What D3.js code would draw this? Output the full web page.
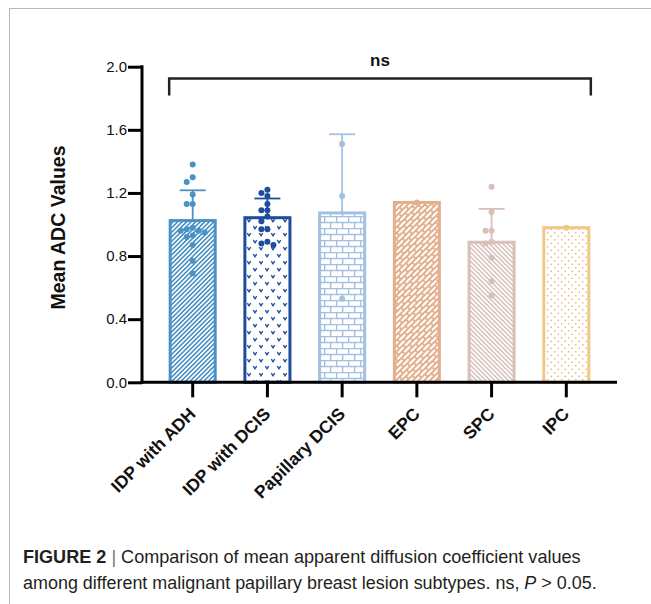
<!DOCTYPE html>
<html>
<head>
<meta charset="utf-8">
<title>Mean ADC Values</title>
<script src="https://cdn.jsdelivr.net/npm/d3@7"></script>
<style>
  body { margin: 0; background: #fff; }
  svg { display: block; font-family: "Liberation Sans", Arial, sans-serif; }
</style>
</head>
<body>
<div id="chart"></div>
<script>
// categories and colours
var categories = ["IDP with ADH", "IDP with DCIS", "Papillary DCIS", "EPC", "SPC", "IPC"];
var barColors = ["#4a92c6", "#1f4d9e", "#a2c0df", "#e3b08d", "#d8c0b8", "#f1c886"];
var patternIds = ["stripe", "vee", "brick", "slantbrick", "backstripe", "dots"];

// individual ADC values
var idpAdh = [1.38, 1.30, 1.27, 1.19, 1.13, 1.13, 0.98, 0.97, 0.96, 0.96, 0.95, 0.93, 0.92, 0.87, 0.77, 0.69];
var idpDcis = [1.22, 1.20, 1.18, 1.13, 1.09, 1.09, 1.05, 1.02, 0.97, 0.97, 0.89, 0.88, 0.87];
var papDcis = [1.51, 1.18, 0.53];
var epc = [1.14];
var spc = [1.24, 1.08, 0.96, 0.96, 0.89, 0.88, 0.79, 0.64, 0.55];
var ipc = [0.98];
var groups = [idpAdh, idpDcis, papDcis, epc, spc, ipc];

var yTicks = [0, 0.4, 0.8, 1.2, 1.6, 2.0];

var W = 651, H = 604;

var svg = d3.select("#chart").append("svg")
    .attr("width", W)
    .attr("height", H);

// frame lines like the journal panel
svg.append("line").attr("x1", 9).attr("x2", W).attr("y1", 8.5).attr("y2", 8.5)
    .attr("stroke", "#b8b8b8").attr("stroke-width", 1);
svg.append("line").attr("x1", 9.5).attr("x2", 9.5).attr("y1", 8).attr("y2", H)
    .attr("stroke", "#b8b8b8").attr("stroke-width", 1);

var x = d3.scaleBand()
    .domain(categories)
    .range([142, 617])
    .paddingInner(0.357)
    .paddingOuter(0.357);

var y = d3.scaleLinear()
    .domain([0, 2])
    .range([382.3, 66.7]);

// patterns
var defs = svg.append("defs");

function pat(id, w, h, transform) {
  var p = defs.append("pattern")
      .attr("id", id)
      .attr("patternUnits", "userSpaceOnUse")
      .attr("width", w)
      .attr("height", h);
  if (transform) p.attr("patternTransform", transform);
  p.append("rect").attr("width", w).attr("height", h).attr("fill", "#fff");
  return p;
}

var p1 = pat("stripe", 3.2, 10, "rotate(45)");
p1.append("line").attr("x1", 0.8).attr("x2", 0.8).attr("y1", 0).attr("y2", 10)
    .attr("stroke", barColors[0]).attr("stroke-width", 1.6);

var p2 = pat("vee", 12, 14);
[[3, 3.5], [9, 10.5]].forEach(function(c) {
  p2.append("path")
      .attr("d", "M" + (c[0] - 1.7) + "," + (c[1] - 1.3) + " L" + c[0] + "," + (c[1] + 1.3) + " L" + (c[0] + 1.7) + "," + (c[1] - 1.3))
      .attr("fill", "none").attr("stroke", barColors[1]).attr("stroke-width", 1.4);
});

var p3 = pat("brick", 12, 12);
p3.append("path")
    .attr("d", "M0,0.6 H12 M0,6.6 H12 M0.6,0.6 V6.6 M6.6,6.6 V12.6")
    .attr("fill", "none").attr("stroke", barColors[2]).attr("stroke-width", 1.5);

var p4 = pat("slantbrick", 10, 8, "rotate(-45)");
p4.append("path")
    .attr("d", "M0,1 H10 M0,5 H10 M1,1 V5 M6,5 V9")
    .attr("fill", "none").attr("stroke", barColors[3]).attr("stroke-width", 1.9);

var p5 = pat("backstripe", 3.2, 10, "rotate(-45)");
p5.append("line").attr("x1", 0.8).attr("x2", 0.8).attr("y1", 0).attr("y2", 10)
    .attr("stroke", "#cdb2a9").attr("stroke-width", 1.2);

var p6 = pat("dots", 7, 7);
[[1.75, 1.75], [5.25, 5.25]].forEach(function(c) {
  p6.append("circle").attr("cx", c[0]).attr("cy", c[1]).attr("r", 0.85).attr("fill", "#eab46a");
});

// stats per group
var stats = groups.map(function(g, i) {
  return {
    cat: categories[i],
    mean: d3.mean(g),
    sd: g.length > 1 ? d3.deviation(g) : null,
    color: barColors[i],
    pattern: patternIds[i],
    values: g
  };
});

// bars
svg.selectAll(".bar")
    .data(stats)
  .enter().append("rect")
    .attr("class", "bar")
    .attr("x", function(d) { return x(d.cat) + 1.5; })
    .attr("width", x.bandwidth() - 3)
    .attr("y", function(d) { return y(d.mean); })
    .attr("height", function(d) { return y(0) - y(d.mean); })
    .attr("fill", function(d) { return "url(#" + d.pattern + ")"; })
    .attr("stroke", function(d) { return d.color; })
    .attr("stroke-width", 3);

// error bars (upper SD only)
var eb = svg.selectAll(".err")
    .data(stats.filter(function(d) { return d.sd; }))
  .enter().append("g")
    .attr("class", "err")
    .attr("stroke", function(d) { return d.color; })
    .attr("stroke-width", 1.8);
eb.append("line")
    .attr("x1", function(d) { return x(d.cat) + x.bandwidth() / 2; })
    .attr("x2", function(d) { return x(d.cat) + x.bandwidth() / 2; })
    .attr("y1", function(d) { return y(d.mean); })
    .attr("y2", function(d) { return y(d.mean + d.sd); });
eb.append("line")
    .attr("x1", function(d) { return x(d.cat) + x.bandwidth() / 2 - 13; })
    .attr("x2", function(d) { return x(d.cat) + x.bandwidth() / 2 + 13; })
    .attr("y1", function(d) { return y(d.mean + d.sd); })
    .attr("y2", function(d) { return y(d.mean + d.sd); });

// simple beeswarm so dots with similar values sit side by side
function swarm(values) {
  var placed = [];
  var order = values.slice().sort(function(a, b) { return b - a; });
  var steps = [0, -1, 1, -2, 2, -3, 3];
  order.forEach(function(v) {
    var py = y(v);
    for (var k = 0; k < steps.length; k++) {
      var dx = steps[k] * 6;
      var ok = placed.every(function(p) {
        return Math.hypot(p.dx - dx, p.py - py) >= 6;
      });
      if (ok) { placed.push({v: v, dx: dx, py: py}); break; }
    }
  });
  return placed;
}

stats.forEach(function(d) {
  var cx = x(d.cat) + x.bandwidth() / 2;
  svg.append("g").selectAll("circle")
      .data(swarm(d.values))
    .enter().append("circle")
      .attr("cx", function(p) { return cx + p.dx; })
      .attr("cy", function(p) { return y(p.v); })
      .attr("r", 3)
      .attr("fill", d.color);
});

// y axis
var yAxis = svg.append("g")
    .attr("transform", "translate(142,0)")
    .call(d3.axisLeft(y).tickValues(yTicks).tickFormat(d3.format(".1f")).tickSize(14).tickSizeOuter(0).tickPadding(1));
yAxis.select(".domain").remove();
yAxis.selectAll(".tick line").attr("stroke", "#000").attr("stroke-width", 3);
yAxis.selectAll(".tick text").attr("font-size", 15).attr("fill", "#111")
    .attr("font-family", "'Liberation Sans', Arial, sans-serif");
svg.append("line").attr("x1", 142).attr("x2", 142).attr("y1", y(2) - 1.5).attr("y2", y(0) + 1.5)
    .attr("stroke", "#000").attr("stroke-width", 3);

// x axis
var xAxis = svg.append("g")
    .attr("transform", "translate(0," + y(0) + ")")
    .call(d3.axisBottom(x).tickSize(15).tickSizeOuter(0));
xAxis.select(".domain").remove();
xAxis.selectAll(".tick text").remove();
xAxis.selectAll(".tick line").attr("stroke", "#000").attr("stroke-width", 3);
svg.append("line").attr("x1", 140.5).attr("x2", 617).attr("y1", y(0)).attr("y2", y(0))
    .attr("stroke", "#000").attr("stroke-width", 3);

svg.selectAll(".xlab")
    .data(categories)
  .enter().append("text")
    .attr("class", "xlab")
    .attr("transform", function(d) {
      return "translate(" + (x(d) + x.bandwidth() / 2 + 4) + "," + 415 + ") rotate(-45)";
    })
    .attr("text-anchor", "end")
    .attr("font-size", 17.5)
    .attr("font-weight", "bold")
    .attr("fill", "#111")
    .text(function(d) { return d; });

// y title
svg.append("text")
    .attr("transform", "translate(65,227.5) rotate(-90)")
    .attr("text-anchor", "middle")
    .attr("font-size", 19.5)
    .attr("font-weight", "bold")
    .attr("fill", "#111")
    .text("Mean ADC Values");

// significance bracket
var bx0 = x(categories[0]) + 0.5;
var bx1 = x(categories[categories.length - 1]) + x.bandwidth() + 0.5;
var by = y(1.925);
svg.append("path")
    .attr("d", "M" + bx0 + "," + (by + 17) + " V" + by + " H" + bx1 + " V" + (by + 17))
    .attr("fill", "none")
    .attr("stroke", "#222")
    .attr("stroke-width", 2.5);
svg.append("text")
    .attr("x", (bx0 + bx1) / 2)
    .attr("y", 66)
    .attr("text-anchor", "middle")
    .attr("font-size", 17)
    .attr("font-weight", "bold")
    .attr("fill", "#111")
    .text("ns");

// caption, squeezed horizontally to the narrow journal font
function captionLine(yPos, targetWidth, build) {
  var g = svg.append("g")
      .attr("fill", "#231f20")
      .attr("font-size", 18.5);
  var t = g.append("text").attr("x", 0).attr("y", 0);
  build(t);
  var w = t.node().getComputedTextLength();
  g.attr("transform", "translate(23," + yPos + ") scale(" + (targetWidth / w) + ",1)");
}

captionLine(563, 558, function(t) {
  t.append("tspan").attr("font-weight", "bold").text("FIGURE 2");
  t.append("tspan").attr("fill", "#777").text(" | ");
  t.append("tspan").text("Comparison of mean apparent diffusion coefficient values");
});
captionLine(589, 574, function(t) {
  t.append("tspan").text("among different malignant papillary breast lesion subtypes. ns, ");
  t.append("tspan").attr("font-style", "italic").text("P");
  t.append("tspan").text(" > 0.05.");
});
</script>
</body>
</html>
